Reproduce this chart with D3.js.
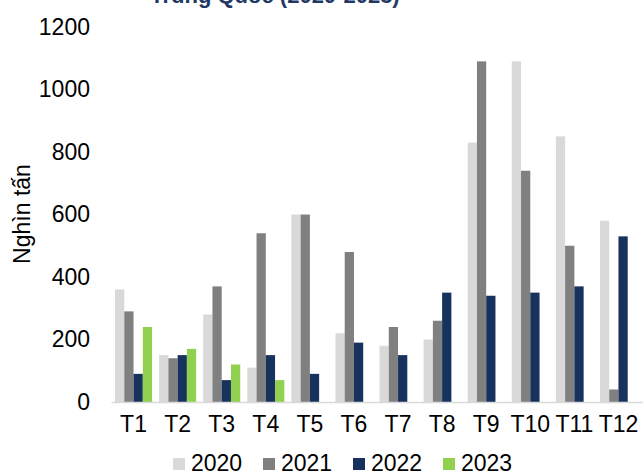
<!DOCTYPE html>
<html>
<head>
<meta charset="utf-8">
<script src="https://cdn.jsdelivr.net/npm/d3@7"></script>
<style>
  body { margin: 0; background: #fff; }
  svg { display: block; font-family: Arial, "Liberation Sans", sans-serif; }
</style>
</head>
<body>
<div id="chart"></div>
<script>
// dữ liệu theo tháng (nghìn tấn)
const months = ['T1', 'T2', 'T3', 'T4', 'T5', 'T6', 'T7', 'T8', 'T9', 'T10', 'T11', 'T12'];
const years = ['2020', '2021', '2022', '2023'];
const v2020 = [360, 150, 280, 110, 600, 220, 180, 200, 830, 1090, 850, 580];
const v2021 = [290, 140, 370, 540, 600, 480, 240, 260, 1090, 740, 500, 40];
const v2022 = [90, 150, 70, 150, 90, 190, 150, 350, 340, 350, 370, 530];
const v2023 = [240, 170, 120, 70, null, null, null, null, null, null, null, null];
const yTicks = [0, 200, 400, 600, 800, 1000, 1200];

const colors = ['#d9d9d9', '#808080', '#17325c', '#92d050'];
const seriesVals = [v2020, v2021, v2022, v2023];

const W = 643, H = 475;
const svg = d3.select('#chart').append('svg')
  .attr('width', W).attr('height', H);

const x = d3.scaleBand().domain(months).range([111.5, 640.5])
  .paddingInner(0.16).paddingOuter(0.08);
const xs = d3.scaleBand().domain(years).range([0, x.bandwidth()]);
const y = d3.scaleLinear().domain([0, 1200]).range([402, 27]);

// tiêu đề (bị cắt ở mép trên)
svg.append('text')
  .attr('x', 275).attr('y', 3)
  .attr('text-anchor', 'middle')
  .attr('font-size', 22).attr('font-weight', 'bold')
  .attr('fill', '#1f3864')
  .text('Trung Quốc (2020-2023)');

// trục y
const yAxis = svg.append('g').attr('transform', 'translate(96,0)')
  .call(d3.axisLeft(y).tickValues(yTicks).tickFormat(d3.format('d'))
    .tickSize(0).tickPadding(6));
yAxis.select('.domain').remove();
yAxis.selectAll('text').attr('font-size', 23).attr('fill', '#000')
  .attr('font-family', 'Arial, "Liberation Sans", sans-serif');

svg.append('text')
  .attr('transform', 'translate(30,214) rotate(-90)')
  .attr('text-anchor', 'middle')
  .attr('font-size', 23).attr('fill', '#000')
  .text('Nghìn tấn');

// cột
const rows = [];
months.forEach((m, i) => {
  years.forEach((yr, k) => {
    const v = seriesVals[k][i];
    if (v != null) rows.push({ m, yr, v, c: colors[k] });
  });
});

svg.append('g').selectAll('rect').data(rows).join('rect')
  .attr('x', d => x(d.m) + xs(d.yr))
  .attr('y', d => y(d.v))
  .attr('width', xs.bandwidth())
  .attr('height', d => y(0) - y(d.v))
  .attr('fill', d => d.c);

// trục x
const xAxis = svg.append('g').attr('transform', `translate(0,${y(0)})`)
  .call(d3.axisBottom(x).tickSize(0).tickPadding(14));
xAxis.select('.domain').attr('stroke', '#d9d9d9').attr('stroke-width', 1.5)
  .attr('d', 'M111.5,0.5H643');
xAxis.selectAll('text').attr('font-size', 23).attr('fill', '#000')
  .attr('font-family', 'Arial, "Liberation Sans", sans-serif');

// chú thích
const legend = svg.append('g').attr('transform', 'translate(173,458)');
const lg = legend.selectAll('g').data(years).join('g')
  .attr('transform', (d, i) => `translate(${i * 90},0)`);
lg.append('rect').attr('width', 12).attr('height', 12)
  .attr('fill', (d, i) => colors[i]);
lg.append('text').attr('x', 18).attr('y', 13)
  .attr('font-size', 23).attr('fill', '#000')
  .text(d => d);
</script>
</body>
</html>
